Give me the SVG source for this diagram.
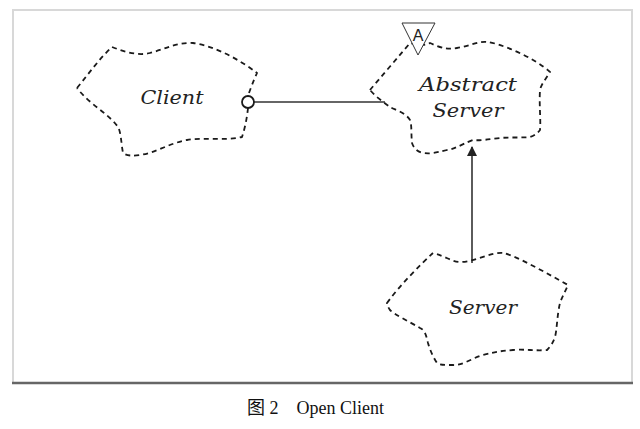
<svg xmlns="http://www.w3.org/2000/svg" width="640" height="429" viewBox="0 0 640 429">
<defs>
<style>
.cloud{fill:none;stroke:#1a1a1a;stroke-width:1.8;stroke-dasharray:5 4;stroke-linejoin:round}
.lbl{font-family:"DejaVu Serif","Liberation Serif",serif;font-style:italic;font-size:19px;fill:#222;text-anchor:middle}
.conn{stroke:#333;stroke-width:1.6;fill:none}
.cap{font-family:"Liberation Serif","Noto Sans CJK SC",serif;font-size:18px;fill:#111}
</style>
<marker id="arr" markerWidth="10" markerHeight="14" refX="9" refY="5" orient="auto" markerUnits="userSpaceOnUse">
<path d="M0,0 L10,5 L0,10 z" fill="#222"/>
</marker>
</defs>
<rect x="0" y="0" width="640" height="429" fill="#fff"/>
<rect id="frame" x="13" y="10" width="619" height="373" fill="#fff" stroke="#d8d8d8" stroke-width="2"/>
<line x1="12" y1="383" x2="633" y2="383" stroke="#666" stroke-width="2.5"/>

<g id="connectors">
<line class="conn" x1="254" y1="102" x2="385" y2="102"/>
<line class="conn" x1="472" y1="263" x2="472" y2="147" marker-end="url(#arr)"/>
</g>

<g id="client">
<path class="cloud" d="M77,88 C90,72 100,58 112,47 C125,52 138,56 150,53 C165,49 178,42 193,43 C215,46 240,60 257,73 C253,82 250,90 248,96 M248,108 C247,118 245,128 242,137 C225,141 205,137 187,140 C170,143 155,153 140,155 C133,156 127,156 123,153 C121,142 121,132 118,127 C108,113 90,105 77,88"/>
<circle cx="248" cy="102" r="6" fill="#fff" stroke="#1a1a1a" stroke-width="1.8"/>
<text class="lbl" x="172" y="104" textLength="63" lengthAdjust="spacingAndGlyphs">Client</text>
</g>

<g id="abstract-server">
<path class="cloud" d="M370,90 C380,78 400,55 410,43 C420,45 425,46 430,43 C445,50 450,49 457,48 C470,46 478,41 487,42 C500,43 535,58 550,72 C545,80 541,85 540,90 C539,105 541,120 540,130 C537,134 533,136 530,137 C520,138 510,137 500,138 C490,139 480,141 473,140 C460,145 455,149 447,150 C435,153 430,154 423,153 C418,152 414,149 412,143 C411,135 412,125 410,120 C405,112 395,110 390,107 C383,102 375,96 370,90 Z"/>
<polygon points="402,23 435,23 418,55" fill="#fff" stroke="#333" stroke-width="1"/>
<text x="418" y="41" font-family="'Liberation Sans',sans-serif" font-size="16" text-anchor="middle" fill="#222">A</text>
<text class="lbl" x="468" y="91" textLength="98" lengthAdjust="spacingAndGlyphs">Abstract</text>
<text class="lbl" x="468" y="117" textLength="71" lengthAdjust="spacingAndGlyphs">Server</text>
</g>

<g id="server">
<path class="cloud" d="M387,303 C400,285 420,265 433,253 C445,256 452,262 460,262 C475,262 490,252 503,253 C515,255 550,275 568,285 C565,292 562,297 560,303 C557,315 557,330 555,337 C553,343 550,347 547,350 C535,351 525,349 513,350 C500,351 495,352 483,355 C472,358 462,366 453,365 C445,365 440,365 437,363 C433,357 430,350 428,343 C426,335 425,330 420,328 C410,322 395,315 390,310 C388,307 387,305 387,303 Z"/>
<text class="lbl" x="483" y="314" textLength="68" lengthAdjust="spacingAndGlyphs">Server</text>
</g>

<text class="cap" x="247" y="414" xml:space="preserve">图 2    Open Client</text>
</svg>
